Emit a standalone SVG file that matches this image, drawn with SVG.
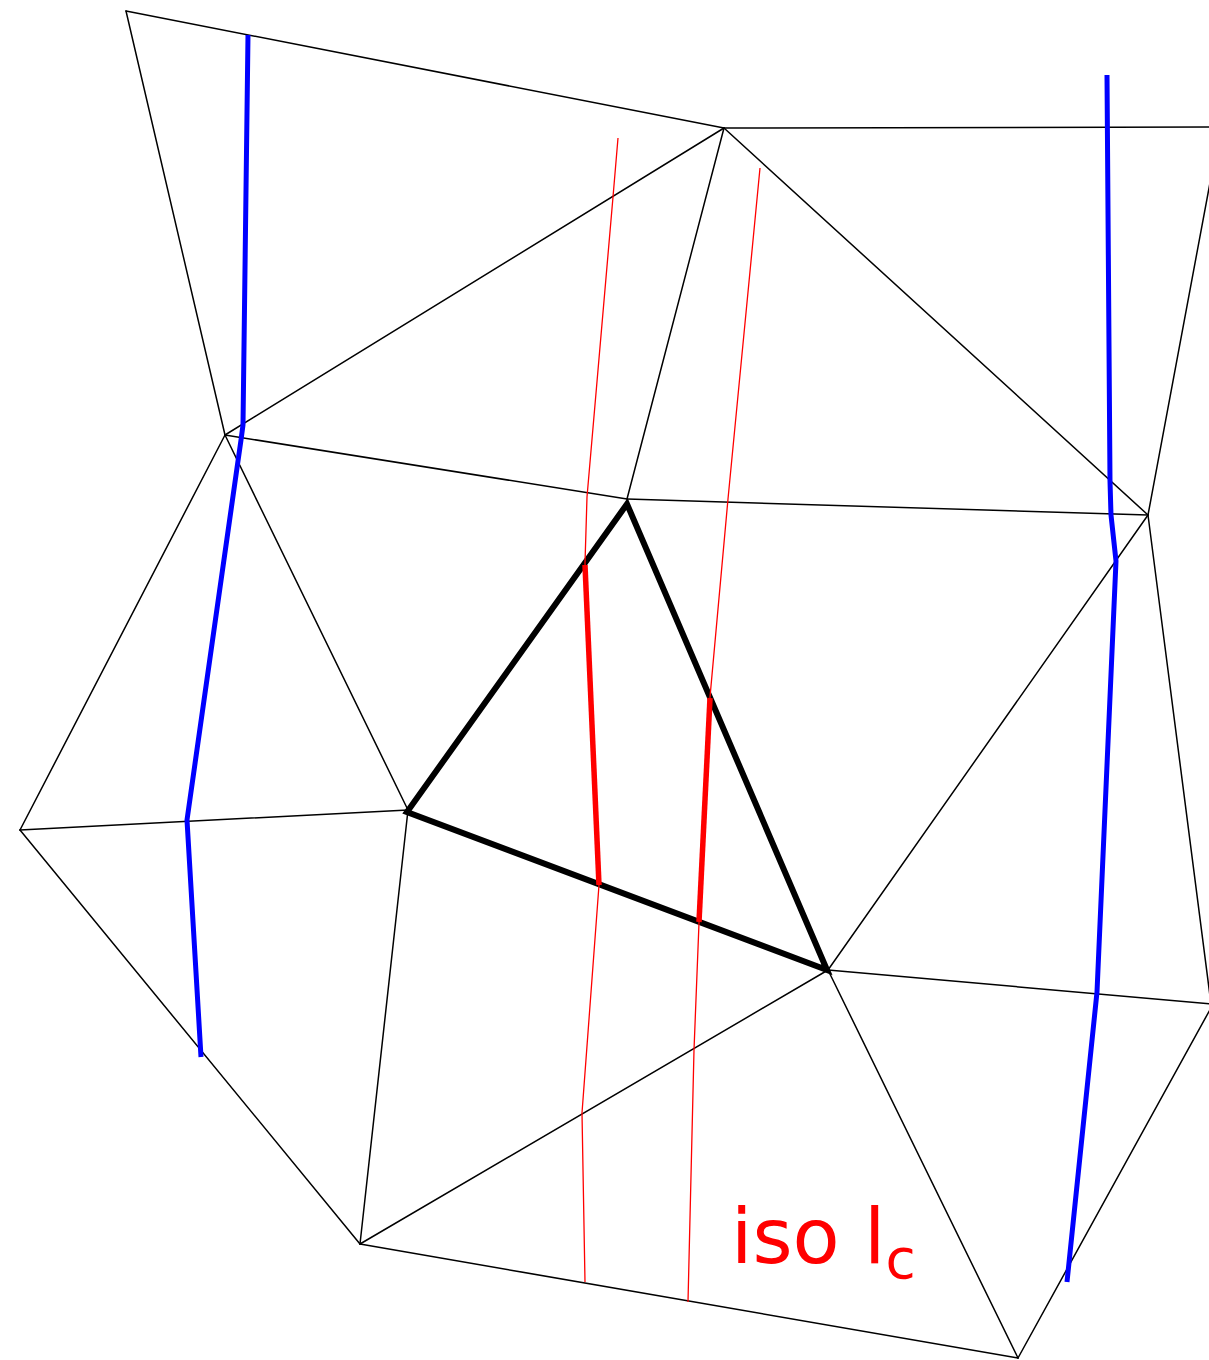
<svg xmlns="http://www.w3.org/2000/svg" width="1209" height="1360" viewBox="0 0 1209 1360">
<style>
.edge{stroke:#000;stroke-width:1.5;fill:none;stroke-linecap:round}
.thick{stroke:#000;stroke-width:6;fill:none;stroke-linejoin:miter}
.blue{stroke:#0000ff;stroke-width:5;fill:none;stroke-linejoin:round}
.iso{stroke:#ff0000;stroke-width:1.3;fill:none}
.isob{stroke:#ff0000;stroke-width:5.5;fill:none}
.lbl{fill:#ff0000;font-family:"DejaVu Sans","Liberation Sans",sans-serif}
</style>
<rect width="1209" height="1360" fill="#fff"/>
<g id="mesh">
<line class="edge" x1="126" y1="11" x2="724" y2="128"/>
<line class="edge" x1="126" y1="11" x2="225" y2="435"/>
<line class="edge" x1="225" y1="435" x2="724" y2="128"/>
<line class="edge" x1="724" y1="128" x2="1212" y2="127"/>
<line class="edge" x1="724" y1="128" x2="627" y2="499"/>
<line class="edge" x1="724" y1="128" x2="1148" y2="515"/>
<line class="edge" x1="1212" y1="172" x2="1148" y2="515"/>
<line class="edge" x1="225" y1="435" x2="627" y2="499"/>
<line class="edge" x1="627" y1="499" x2="1148" y2="515"/>
<line class="edge" x1="225" y1="435" x2="20" y2="830"/>
<line class="edge" x1="225" y1="435" x2="408" y2="810"/>
<line class="edge" x1="20" y1="830" x2="408" y2="810"/>
<line class="edge" x1="1148" y1="515" x2="828" y2="970"/>
<line class="edge" x1="1148" y1="515" x2="1211" y2="1004"/>
<line class="edge" x1="828" y1="970" x2="1211" y2="1004"/>
<line class="edge" x1="20" y1="830" x2="360" y2="1244"/>
<line class="edge" x1="408" y1="810" x2="360" y2="1244"/>
<line class="edge" x1="360" y1="1244" x2="828" y2="970"/>
<line class="edge" x1="360" y1="1244" x2="1018" y2="1358"/>
<line class="edge" x1="828" y1="970" x2="1018" y2="1358"/>
<line class="edge" x1="1018" y1="1358" x2="1212" y2="1006"/>
</g>
<g id="element">
<polygon class="thick" points="627,504 407,812 827,970"/>
</g>
<g id="isolines-blue">
<polyline class="blue" points="248,35 243,425 241,440 237,468 187,820 201,1057"/>
<polyline class="blue" points="1107,75 1110,481 1111,515 1116,561 1097,992 1067,1282"/>
</g>
<g id="isolines-red">
<polyline class="iso" points="618,138 613,197 587,497 585,563 599,885 582,1113 585,1282"/>
<polyline class="iso" points="760,168 728,499 710,697 699,923 694,1050 688,1302"/>
<line class="isob" x1="585" y1="565" x2="599" y2="885"/>
<line class="isob" x1="710" y1="698" x2="699" y2="922"/>
</g>
<g id="label">
<text class="lbl" x="731" y="1263" font-size="77">iso l<tspan font-size="55" dy="15">c</tspan></text>
</g>
</svg>
